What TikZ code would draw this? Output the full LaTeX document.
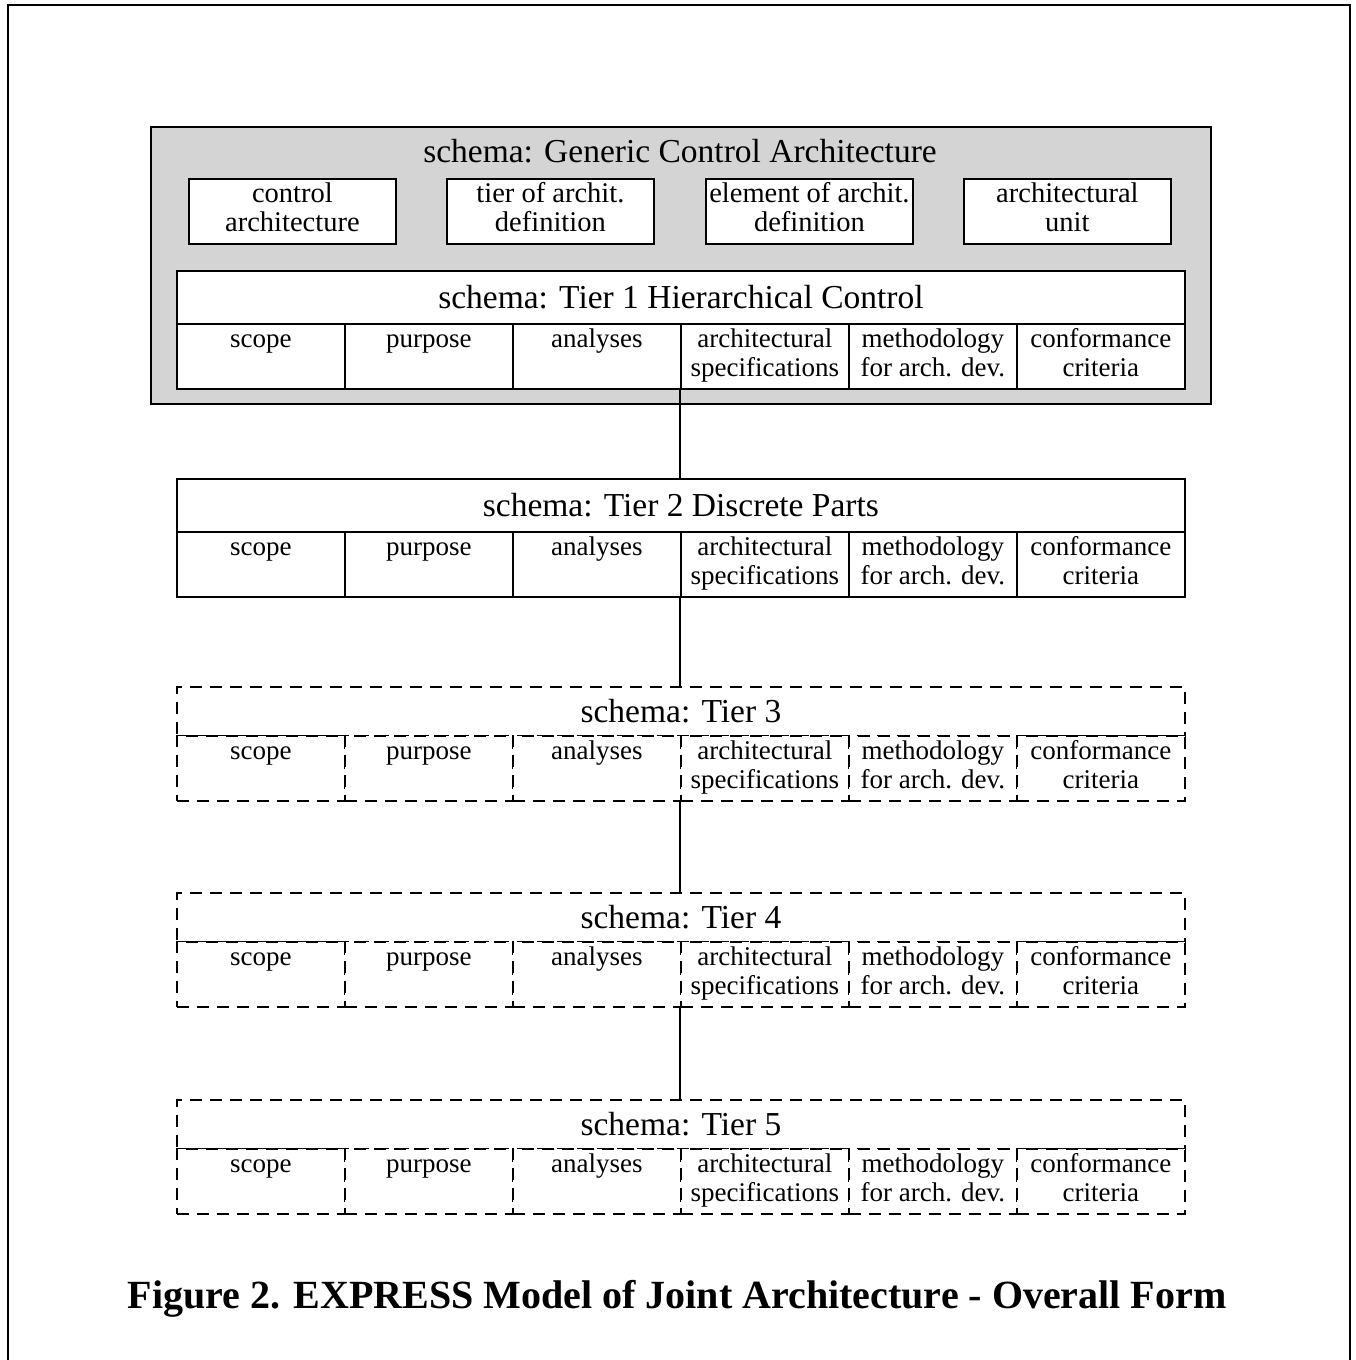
\documentclass[tikz,border=0pt]{standalone}
\usepackage{fontspec}
\setmainfont{Liberation Serif}
\usetikzlibrary{calc}
\newcommand\celltxt{\fontsize{27}{29}\selectfont}
\newcommand\boxtxt{\fontsize{28.5}{29}\selectfont}
\newcommand\headtxt{\fontsize{33.5}{34}\selectfont}
% one schema block: title row plus six columns
% #1 name prefix, #2 top edge, #3 title, #4 title height, #5 line style
\newcommand\schemablock[5]{%
  \node[rowbox,#5,minimum width=1008pt,minimum height=#4pt,font=\headtxt] (#1h) at (176,#2) {#3};
  \foreach \k/\txt in {1/{scope\strut\\\strut},2/{purpose\strut\\\strut},3/{analyses\strut\\\strut},
      4/{architectural\strut\\specifications\strut},5/{methodology\strut\\for arch. dev.\strut},
      6/{conformance\strut\\criteria\strut}}
    \node[rowbox,#5,minimum width=168pt,minimum height=65pt,font=\celltxt]
      (#1c\k) at (176+168*\k-168,#2+#4) {\txt};
}
\begin{document}
\begin{tikzpicture}[x=1pt,y=-1pt,
  rowbox/.style={draw,line width=1.8pt,anchor=north west,inner sep=0pt,align=center,fill=white},
  solidrow/.style={solid},
  dashrow/.style={dash pattern=on 12pt off 8pt},
  unitbox/.style={draw,line width=1.8pt,anchor=north west,inner sep=0pt,align=center,
    minimum width=207pt,minimum height=65pt,fill=white,font=\boxtxt},
  link/.style={line width=1.8pt}]
\useasboundingbox (0,0) rectangle (1355,1360);
\fill[white] (0,0) rectangle (1355,1360);
% page frame
\draw[line width=2pt] (8,1362) -- (8,5) -- (1350,5) -- (1350,1362);

% generic control architecture schema
\node[draw,line width=1.8pt,fill=black!17,anchor=north west,inner sep=0pt,
  minimum width=1060pt,minimum height=277pt] (gca) at (150,126) {};
\node[font=\headtxt,inner sep=0pt] (gcat) at (680,151) {schema: Generic Control Architecture};
\node[unitbox] (u1) at (188,178) {control\strut\\architecture\strut};
\node[unitbox] (u2) at (446,178) {tier of archit.\strut\\definition\strut};
\node[unitbox] (u3) at (705,178) {element of archit.\strut\\definition\strut};
\node[unitbox] (u4) at (963,178) {architectural\strut\\unit\strut};

\schemablock{ta}{270}{schema: Tier 1 Hierarchical Control}{53}{solidrow}
\schemablock{tb}{478}{schema: Tier 2 Discrete Parts}{53}{solidrow}
\schemablock{tc}{686}{schema: Tier 3}{49}{dashrow}
\schemablock{td}{892}{schema: Tier 4}{49}{dashrow}
\schemablock{te}{1099}{schema: Tier 5}{49}{dashrow}

% links between tiers
\draw[link] (tac4.south west) -- (tbh.north -| tbc4.west);
\draw[link] (tbc4.south west) -- (tch.north -| tcc4.west);
\draw[link] (tcc4.south west) -- (tdh.north -| tdc4.west);
\draw[link] (tdc4.south west) -- (teh.north -| tec4.west);

\node[font=\fontsize{40}{42}\selectfont\bfseries,anchor=base,inner sep=0pt] (cap) at (677,1308)
  {Figure 2. EXPRESS Model of Joint Architecture - Overall Form};
\end{tikzpicture}
\end{document}
